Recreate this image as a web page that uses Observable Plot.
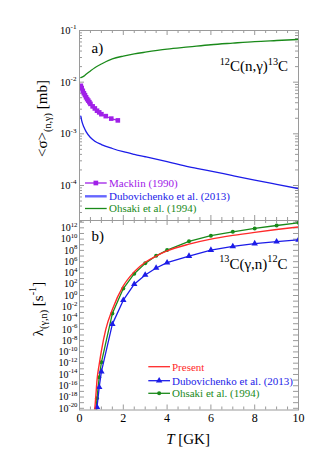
<!DOCTYPE html>
<html>
<head>
<meta charset="utf-8">
<script src="https://cdn.jsdelivr.net/npm/d3@7"></script>
<script src="https://cdn.jsdelivr.net/npm/@observablehq/plot@0.6"></script>
<style>
html,body{margin:0;padding:0;background:#fff;}
#chart{width:331px;height:468px;position:relative;overflow:hidden;font-family:"Liberation Serif","DejaVu Serif",serif;}
#chart svg{display:block;font-family:"Liberation Serif","DejaVu Serif",serif;}
#chart svg text{font-family:"Liberation Serif","DejaVu Serif",serif;}
</style>
</head>
<body>
<div id="chart"></div>
<script>
// ---------- Panel a) 12C(n,γ)13C : <σ> [mb] vs T [GK]
const macklinT   = [0.06, 0.1, 0.15, 0.2, 0.25, 0.3, 0.35, 0.4, 0.45, 0.5, 0.6, 0.7, 0.8, 0.9, 1.0, 1.2, 1.45, 1.75];
const macklinSig = [0.0085, 0.0077, 0.0068, 0.0061, 0.0056, 0.0051, 0.0047, 0.0044, 0.0041, 0.0038, 0.0034, 0.0031, 0.0028, 0.0026, 0.0024, 0.0022, 0.00197, 0.00182];
const dubA_T   = [0.06, 0.1, 0.2, 0.3, 0.5, 0.7, 1, 1.5, 2, 2.5, 3, 4, 5, 6, 7, 8, 9, 10];
const dubA_Sig = [0.0022, 0.0018, 0.00135, 0.0011, 0.00085, 0.00072, 0.00062, 0.00052, 0.00045, 0.0004, 0.00036, 0.00029, 0.00023, 0.00019, 0.000155, 0.000127, 0.000105, 0.000087];
const ohsA_T   = [0.06, 0.2, 0.3, 0.5, 0.7, 1, 1.5, 2, 2.5, 3, 4, 5, 6, 7, 8, 9, 10];
const ohsA_Sig = [0.0122, 0.0131, 0.0142, 0.0165, 0.019, 0.0225, 0.0282, 0.032, 0.0352, 0.038, 0.0435, 0.048, 0.053, 0.057, 0.061, 0.064, 0.067];

// ---------- Panel b) 13C(γ,n)12C : λ [s^-1] vs T [GK]
const presentT   = [0.69, 0.75, 0.8, 0.9, 1.0, 1.2, 1.5, 2, 2.5, 3, 3.5, 4, 5, 6, 7, 8, 9, 10];
const presentLam = [3e-21, 2.5e-18, 1e-15, 6.3e-13, 1.6e-10, 1e-6, 3.2e-3, 50, 1.6e4, 8e5, 1e7, 8e7, 1.3e9, 1e10, 4.5e10, 1.6e11, 5e11, 1.4e12];
const dubB_T   = [0.7, 0.8, 0.9, 1, 1.5, 2, 2.5, 3, 3.5, 4, 5, 6, 7, 8, 9, 10];
const dubB_Lam = [1e-24, 1.6e-20, 5.4e-17, 3.2e-14, 8.5e-6, 0.15, 100, 4.4e3, 7.6e4, 6.6e5, 1e7, 1.15e8, 5e8, 1.6e9, 3.6e9, 7.6e9];
const ohsB_T   = [0.7, 0.8, 0.9, 1, 1.5, 2, 2.5, 3, 3.5, 4, 5, 6, 7, 8, 9, 10];
const ohsB_Lam = [3e-23, 6.3e-19, 3.2e-15, 1.4e-12, 6.3e-4, 17, 7.4e3, 5e5, 1.1e7, 1.15e8, 4e9, 4e10, 2e11, 8e11, 2.6e12, 7.6e12];

// ---------- ticks / labels
const xTickLabels  = [0, 2, 4, 6, 8, 10];
const xMinorTicks  = [0.5, 1, 1.5, 2.5, 3, 3.5, 4.5, 5, 5.5, 6.5, 7, 7.5, 8.5, 9, 9.5];
const yTickLabelsA = [1e-4, 1e-3, 1e-2, 1e-1];
const yTickLabelsB = [1e-20, 1e-18, 1e-16, 1e-14, 1e-12, 1e-10, 1e-8, 1e-6, 1e-4, 1e-2, 1, 1e2, 1e4, 1e6, 1e8, 1e10, 1e12];
const legendA = ["Macklin (1990)", "Dubovichenko et al. (2013)", "Ohsaki et al. (1994)"];
const legendB = ["Present", "Dubovichenko et al. (2013)", "Ohsaki et al. (1994)"];

const FONT = "Liberation Serif, DejaVu Serif, serif";
const FRAME = "#9a9a9a";
const C = {macklin: "#a020e8", dub: "#1c1ce8", dubLeg: "#6666ff", ohs: "#1a8a1a", present: "#ff2a2a"};

const rows = (xs, ys) => xs.map((x, i) => ({x, y: ys[i]}));

const yMinorA = [];
for (const e of [-5, -4, -3, -2]) for (let m = 2; m <= 9; m++) yMinorA.push(m * Math.pow(10, e));
const yMajorB = d3.range(-20, 14).map(e => Math.pow(10, e));

function frameTicks(xMajor, xMinor, yMajor, yMinor, fw, fh) {
  const s = {stroke: FRAME, strokeWidth: 1};
  return [
    Plot.tickX(xMajor, {x: d => d, insetBottom: fh - 5, ...s}),
    Plot.tickX(xMajor, {x: d => d, insetTop: fh - 5, ...s}),
    Plot.tickX(xMinor, {x: d => d, insetBottom: fh - 3, ...s}),
    Plot.tickX(xMinor, {x: d => d, insetTop: fh - 3, ...s}),
    Plot.tickY(yMajor, {y: d => d, insetRight: fw - 5, ...s}),
    Plot.tickY(yMajor, {y: d => d, insetLeft: fw - 5, ...s}),
    Plot.tickY(yMinor, {y: d => d, insetRight: fw - 3, ...s}),
    Plot.tickY(yMinor, {y: d => d, insetLeft: fw - 3, ...s})
  ];
}

// rich text: ^{sup} _{sub} *{italic}
function rich(el, str, size) {
  const sel = d3.select(el);
  sel.text(null);
  const parts = str.split(/(\^\{[^}]*\}|_\{[^}]*\}|\*\{[^}]*\})/).filter(s => s !== "");
  let shift = 0;
  for (const p of parts) {
    let mode = "n", t = p;
    if (/^[\^_*]\{/.test(p)) { mode = p[0]; t = p.slice(2, -1); }
    const target = mode === "^" ? -0.42 * size : mode === "_" ? 0.3 * size : 0;
    const ts = sel.append("tspan").text(t);
    if (target !== shift) ts.attr("dy", target - shift);
    shift = target;
    if (mode === "^" || mode === "_") ts.attr("font-size", 0.68 * size);
    if (mode === "*") ts.attr("font-style", "italic");
  }
}
function addText(svg, x, y, str, {size = 15, anchor = "start", fill = "#000", rotate = 0} = {}) {
  const t = d3.select(svg).append("text")
    .attr("font-size", size).attr("fill", fill).attr("text-anchor", anchor).attr("font-family", FONT);
  if (rotate) t.attr("transform", `translate(${x},${y}) rotate(${rotate})`);
  else t.attr("x", x).attr("y", y);
  rich(t.node(), str, size);
}
function legendRow(svg, x0, x1, y, tx, color, label, {marker = null, width = 1.3, textColor = color} = {}) {
  const g = d3.select(svg).append("g");
  g.append("line").attr("x1", x0).attr("x2", x1).attr("y1", y).attr("y2", y)
    .attr("stroke", color).attr("stroke-width", width);
  if (marker) {
    g.append("path").attr("d", d3.symbol(marker.type, marker.size)())
      .attr("transform", `translate(${(x0 + x1) / 2},${y})`).attr("fill", color);
  }
  g.append("text").attr("x", tx).attr("y", y + 3.8).attr("font-size", 11)
    .attr("text-anchor", "start").attr("font-family", FONT).attr("fill", textColor).text(label);
}
const expFmt = d => `10^{${Math.round(Math.log10(d))}}`;

// ---------- Panel a
const FW = 331 - 79 - 33;
const plotA = Plot.plot({
  width: 331, height: 220, marginTop: 30, marginBottom: 0, marginLeft: 79, marginRight: 33,
  style: {fontFamily: FONT, fontSize: "11px", background: "transparent", overflow: "visible"},
  x: {domain: [0, 10], axis: null},
  y: {type: "log", domain: [2.1e-5, 0.1]},
  marks: [
    Plot.axisY({ticks: yTickLabelsA, tickFormat: expFmt, tickSize: 0, tickPadding: 3, fontSize: 10.5, label: null}),
    ...frameTicks(xTickLabels, xMinorTicks, yTickLabelsA, yMinorA, FW, 190),
    Plot.line(rows(ohsA_T, ohsA_Sig), {x: "x", y: "y", stroke: C.ohs, strokeWidth: 1.3, curve: "monotone-x", clip: true}),
    Plot.line(rows(dubA_T, dubA_Sig), {x: "x", y: "y", stroke: C.dub, strokeWidth: 1.3, curve: "monotone-x", clip: true}),
    Plot.line(rows(macklinT, macklinSig), {x: "x", y: "y", stroke: C.macklin, strokeWidth: 1.3, curve: "monotone-x", clip: true}),
    Plot.dot(rows(macklinT, macklinSig), {x: "x", y: "y", symbol: "square", r: 2.6, fill: C.macklin, stroke: "none", clip: true}),
    Plot.frame({stroke: FRAME})
  ]
});

// ---------- Panel b
const plotB = Plot.plot({
  width: 331, height: 248, marginTop: 0, marginBottom: 58.5, marginLeft: 79, marginRight: 33,
  style: {fontFamily: FONT, fontSize: "11px", background: "transparent", overflow: "visible"},
  x: {domain: [0, 10]},
  y: {type: "log", domain: [5e-21, 2e13]},
  marks: [
    Plot.axisX({ticks: xTickLabels, tickFormat: d => String(d), tickSize: 0, tickPadding: 3, fontSize: 12, label: null}),
    Plot.axisY({ticks: yTickLabelsB, tickFormat: expFmt, tickSize: 0, tickPadding: 2, fontSize: 10, label: null}),
    ...frameTicks(xTickLabels, xMinorTicks, yMajorB, [], FW, 189.5),
    Plot.line(rows(ohsB_T, ohsB_Lam), {x: "x", y: "y", stroke: C.ohs, strokeWidth: 1.3, clip: true}),
    Plot.dot(rows(ohsB_T, ohsB_Lam), {x: "x", y: "y", symbol: "circle", r: 2, fill: C.ohs, stroke: "none", clip: true}),
    Plot.line(rows(dubB_T, dubB_Lam), {x: "x", y: "y", stroke: C.dub, strokeWidth: 1.3, clip: true}),
    Plot.dot(rows(dubB_T, dubB_Lam), {x: "x", y: "y", symbol: "triangle", r: 2.4, fill: C.dub, stroke: "none", clip: true}),
    Plot.line(rows(presentT, presentLam), {x: "x", y: "y", stroke: C.present, strokeWidth: 1.4, curve: "monotone-x", clip: true}),
    Plot.frame({stroke: FRAME})
  ]
});

// superscripted tick labels
d3.select(plotA).selectAll('g[aria-label="y-axis tick label"] text').each(function () { rich(this, this.textContent, 10.5); });
d3.select(plotB).selectAll('g[aria-label="y-axis tick label"] text').each(function () { rich(this, this.textContent, 10); });

// annotations panel a
addText(plotA, 91.5, 52.5, "a)", {size: 15});
addText(plotA, 288, 71, "^{12}C(n,γ)^{13}C", {size: 15, anchor: "end"});
addText(plotA, 46.5, 118.5, "<σ>_{(n,γ)} [mb]", {size: 15, anchor: "middle", rotate: -90});
legendRow(plotA, 85, 106.7, 183, 109, C.macklin, legendA[0], {marker: {type: d3.symbolSquare, size: 22}});
legendRow(plotA, 85, 106.7, 196.3, 109, C.dubLeg, legendA[1], {width: 2.4, textColor: C.dub});
legendRow(plotA, 85, 106.7, 208.5, 109, C.ohs, legendA[2]);

// annotations panel b
addText(plotB, 91.5, 21, "b)", {size: 15});
addText(plotB, 287.5, 48.5, "^{13}C(γ,n)^{12}C", {size: 15, anchor: "end"});
addText(plotB, 42.5, 89, "λ_{(γ,n)} [s^{-1}]", {size: 15, anchor: "middle", rotate: -90});
addText(plotB, 188, 223.5, "*{T} [GK]", {size: 15, anchor: "middle"});
legendRow(plotB, 148.3, 170, 146.7, 172, C.present, legendB[0]);
legendRow(plotB, 148.3, 170, 160.7, 172, C.dub, legendB[1], {marker: {type: d3.symbolTriangle, size: 18}});
legendRow(plotB, 148.3, 170, 173.3, 172, C.ohs, legendB[2], {marker: {type: d3.symbolCircle, size: 13}});

const root = document.getElementById("chart");
root.append(plotA, plotB);
</script>
</body>
</html>
